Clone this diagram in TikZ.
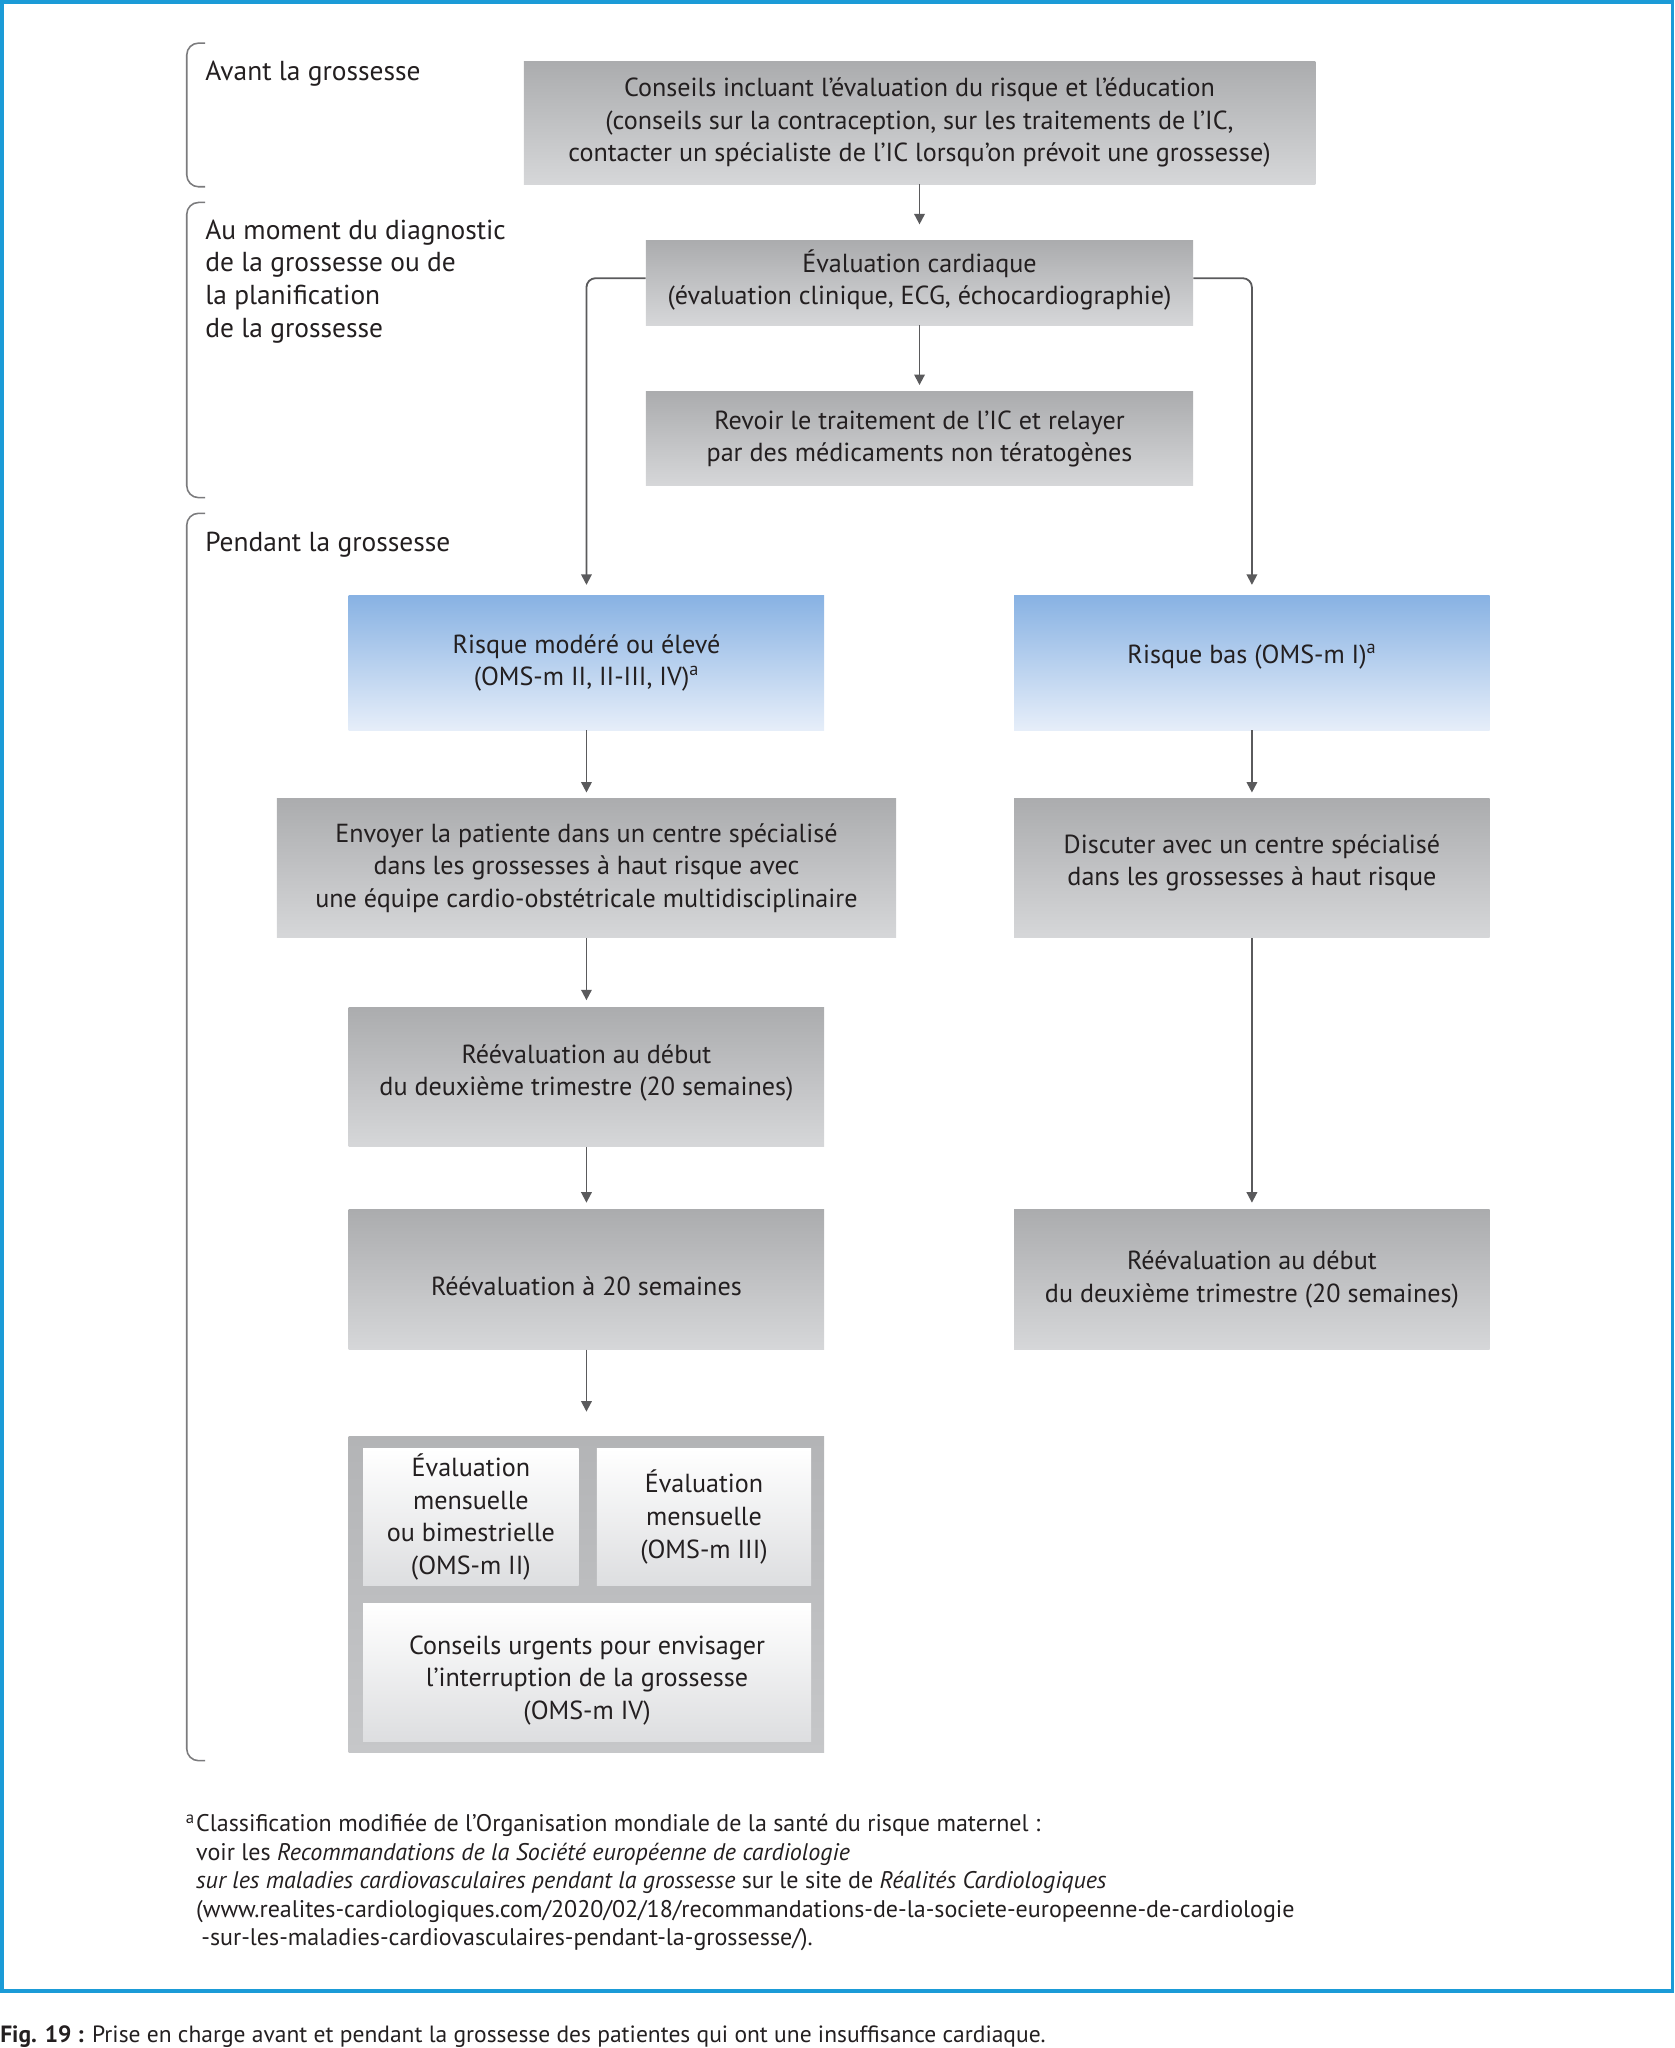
\documentclass[tikz,border=0pt]{standalone}
\usepackage{fontspec}
\setmainfont{PT Sans}
\usetikzlibrary{arrows.meta}
\definecolor{txt}{HTML}{231F20}
\definecolor{gtop}{HTML}{ABACAE}
\definecolor{gbot}{HTML}{D6D7D9}
\definecolor{btop}{HTML}{88B2E3}
\definecolor{bbot}{HTML}{E6EEF9}
\definecolor{ctop}{HTML}{B3B4B6}
\definecolor{cbot}{HTML}{C6C7C9}
\definecolor{itop}{HTML}{FFFFFF}
\definecolor{ibot}{HTML}{DDDEE0}
\definecolor{lin}{HTML}{5A5A5C}
\definecolor{frame}{HTML}{1B9BD7}
\begin{document}
\begin{tikzpicture}[x=1pt,y=-1pt,
  font=\fontsize{20}{25}\selectfont, text=txt,
  box/.style={rectangle, inner sep=0pt, align=center, draw=none},
  graybox/.style={box, top color=gtop, bottom color=gbot},
  bluebox/.style={box, top color=btop, bottom color=bbot},
  contbox/.style={box, top color=ctop, bottom color=cbot},
  innerbox/.style={box, top color=itop, bottom color=ibot},
  arr/.style={draw=lin, line width=1.4pt, -{Triangle[length=8pt,width=8pt]}},
  bracketline/.style={draw=lin!80, line width=1.2pt, rounded corners=9pt},
  lbl/.style={inner sep=0pt, align=left, font=\fontsize{21}{25}\selectfont}]
\useasboundingbox (0,0) rectangle (1282,1568);
\draw[frame, line width=3pt] (1.5,1.5) rectangle (1280.5,1524.5);

% brackets
\draw[bracketline] (157,33) -- (143,33) -- (143,143) -- (157,143);
\draw[bracketline] (157,155) -- (143,155) -- (143,381) -- (157,381);
\draw[bracketline] (157,393) -- (143,393) -- (143,1348) -- (157,1348);

% phase labels
\node[lbl, anchor=base west] (l1) at (157,62) {Avant la grossesse};
\node[lbl, anchor=north west] (l2) at (157,168) {Au moment du diagnostic\\de la grossesse ou de\\la planification\\de la grossesse};
\node[lbl, anchor=base west] (l3) at (157,422) {Pendant la grossesse};

% boxes
\node[graybox, minimum width=606pt, minimum height=94pt] (b1) at (704,94)
  {Conseils incluant l’évaluation du risque et l’éducation\\(conseils sur la contraception, sur les traitements de l’IC,\\contacter un spécialiste de l’IC lorsqu’on prévoit une grossesse)};
\node[graybox, minimum width=419pt, minimum height=65pt,
  label={[align=center, yshift=2pt]center:Évaluation cardiaque\\(évaluation clinique, ECG, échocardiographie)}] (b2) at (704,216.5) {};
\node[graybox, minimum width=419pt, minimum height=72pt] (b3) at (704,336)
  {Revoir le traitement de l’IC et relayer\\par des médicaments non tératogènes};

\node[bluebox, minimum width=364pt, minimum height=103pt] (bl) at (449,507.5)
  {Risque modéré ou élevé\\(OMS-m II, II-III, IV)\textsuperscript{a}};
\node[bluebox, minimum width=364pt, minimum height=103pt,
  label={[align=center, yshift=5pt]center:Risque bas (OMS-m I)\textsuperscript{a}}] (br) at (958.5,507.5) {};

\node[graybox, minimum width=474pt, minimum height=107pt] (l2b) at (449,664.5)
  {Envoyer la patiente dans un centre spécialisé\\dans les grossesses à haut risque avec\\une équipe cardio-obstétricale multidisciplinaire};
\node[graybox, minimum width=364pt, minimum height=107pt,
  label={[align=center, yshift=4pt]center:Discuter avec un centre spécialisé\\dans les grossesses à haut risque}] (r2b) at (958.5,664.5) {};

\node[graybox, minimum width=364pt, minimum height=107pt,
  label={[align=center, yshift=3pt]center:Réévaluation au début\\du deuxième trimestre (20 semaines)}] (l3b) at (449,824.5) {};

\node[graybox, minimum width=364pt, minimum height=107pt,
  label={[align=center, yshift=-5pt]center:Réévaluation à 20 semaines}] (l4b) at (449,979.5) {};
\node[graybox, minimum width=364pt, minimum height=107pt] (r4b) at (958.5,979.5)
  {Réévaluation au début\\du deuxième trimestre (20 semaines)};

\node[contbox, minimum width=364pt, minimum height=242pt] (ct) at (449,1221) {};
\node[innerbox, minimum width=165pt, minimum height=105pt] (ia) at (360.5,1161.5)
  {Évaluation\\mensuelle\\ou bimestrielle\\(OMS-m II)};
\node[innerbox, minimum width=164pt, minimum height=105pt] (ib) at (539,1161.5)
  {Évaluation\\mensuelle\\(OMS-m III)};
\node[innerbox, minimum width=343pt, minimum height=105pt,
  label={[align=center, yshift=-6pt]center:Conseils urgents pour envisager\\l’interruption de la grossesse\\(OMS-m IV)}] (ic) at (449.5,1280.5) {};

% connectors
\draw[arr, shorten >=12pt] (b1.south) -- (b2.north);
\draw[arr, shorten >=5pt] (b2.south) -- (b3.north);
\draw[arr, rounded corners=7pt, shorten >=8pt] ([yshift=3.5pt]b2.west) -| (bl.north);
\draw[arr, rounded corners=7pt, shorten >=8pt] ([yshift=3.5pt]b2.east) -| (br.north);
\draw[arr, shorten >=4pt] (bl.south) -- (l2b.north);
\draw[arr, shorten >=4pt] (br.south) -- (r2b.north);
\draw[arr, shorten >=5pt] (l2b.south) -- (l3b.north);
\draw[arr, shorten >=5pt] (l3b.south) -- (l4b.north);
\draw[arr, shorten >=5pt] (r2b.south) -- (r4b.north);
\draw[arr, shorten >=19pt] (l4b.south) -- (ct.north);

% footnote
\node[inner sep=0pt, align=left, anchor=north west, font=\fontsize{18.4}{21.75}\selectfont] (fn) at (150,1389)
  {\llap{\textsuperscript{a}\hspace{1pt}}Classification modifiée de l’Organisation mondiale de la santé du risque maternel :\\
   voir les \textit{Recommandations de la Société européenne de cardiologie}\\
   \textit{sur les maladies cardiovasculaires pendant la grossesse} sur le site de \textit{Réalités Cardiologiques}\\
   (www.realites-cardiologiques.com/2020/02/18/recommandations-de-la-societe-europeenne-de-cardiologie\\
   \hspace*{4pt}-sur-les-maladies-cardiovasculaires-pendant-la-grossesse/).};

% caption
\node[inner sep=0pt, anchor=base west, font=\fontsize{18}{20}\selectfont] (cap) at (0,1564)
  {\textbf{Fig. 19 :} Prise en charge avant et pendant la grossesse des patientes qui ont une insuffisance cardiaque.};
\end{tikzpicture}
\end{document}
